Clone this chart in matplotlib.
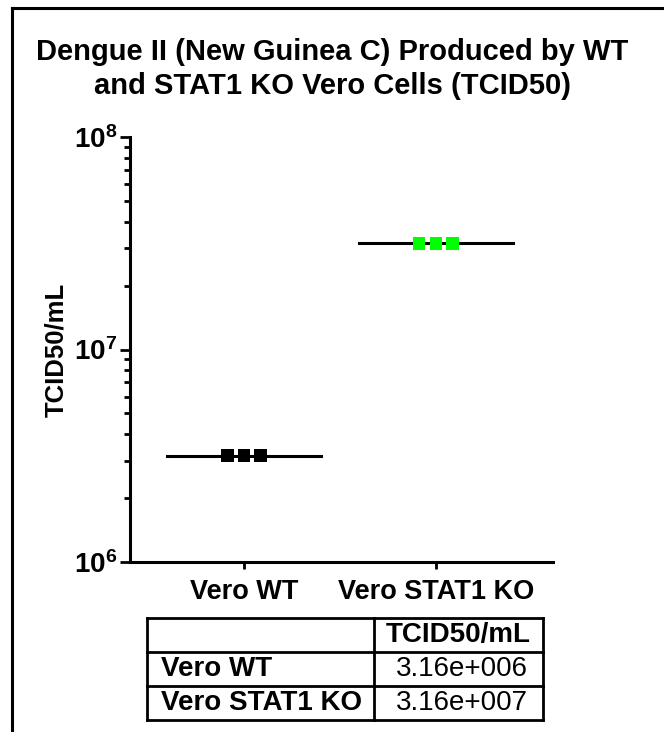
import math
import matplotlib
matplotlib.use("Agg")
import matplotlib.pyplot as plt
import matplotlib.ticker as mticker
from matplotlib.lines import Line2D

plt.rcParams.update({
    "font.family": ["Liberation Sans", "DejaVu Sans"],
    "mathtext.fontset": "custom",
    "mathtext.rm": "Liberation Sans",
    "mathtext.bf": "Liberation Sans:bold",
})

# data
groups = ["Vero WT", "Vero STAT1 KO"]
wt_values = [3.16e6, 3.16e6, 3.16e6]
ko_values = [3.16e7, 3.16e7, 3.16e7]
group_colors = ["#000000", "#00FF00"]
table_header = ["", "TCID50/mL"]
table_rows = ["Vero WT", "Vero STAT1 KO"]
table_values = ["3.16e+006", "3.16e+007"]

fig = plt.figure(figsize=(6.64, 7.32), dpi=100)

# outer frame (clipped on right/bottom like the source)
fig.add_artist(Line2D([0.018, 1.0], [0.989, 0.989], color="black", lw=2.2))
fig.add_artist(Line2D([0.018, 0.018], [0.989, 0.0], color="black", lw=2.2))

fig.text(0.5, 0.906, "Dengue II (New Guinea C) Produced by WT\nand STAT1 KO Vero Cells (TCID50)",
         ha="center", va="center", fontsize=21, fontweight="bold", linespacing=1.3)

ax = fig.add_axes([0.1958, 0.2322, 0.637, 0.5806])
ax.set_yscale("log")
ax.set_ylim(1e6, 1e8)
ax.set_xlim(0.406, 2.61)

offsets = [-0.088, 0.0, 0.088]
for i, vals in enumerate([wt_values, ko_values]):
    x0 = i + 1
    mean = sum(vals) / len(vals)
    ax.plot([x0 - 0.4, x0 + 0.4], [mean, mean], color="black", lw=2.2, zorder=2)
    ax.scatter([x0 + o for o in offsets], vals, marker="s", s=85,
               color=group_colors[i], edgecolors="none", zorder=3)

for side in ["top", "right"]:
    ax.spines[side].set_visible(False)
for side in ["left", "bottom"]:
    ax.spines[side].set_linewidth(2.2)

ax.set_xticks([1, 2])
ax.set_xticklabels(groups, fontsize=19.5, fontweight="bold")
ax.tick_params(axis="x", length=5, width=2, pad=7)
ax.yaxis.set_major_locator(mticker.LogLocator(base=10, numticks=5))
ax.yaxis.set_minor_locator(mticker.LogLocator(base=10, subs=range(2, 10), numticks=20))
ax.yaxis.set_minor_formatter(mticker.NullFormatter())
ax.yaxis.set_major_formatter(mticker.FuncFormatter(
    lambda v, p: r"$\mathbf{10^{%d}}$" % round(math.log10(v))))
ax.tick_params(axis="y", which="major", length=7, width=2, labelsize=20, pad=2)
ax.tick_params(axis="y", which="minor", length=4, width=2)
ax.set_ylabel("TCID50/mL", fontsize=18.5, fontweight="bold")
ax.yaxis.set_label_coords(-0.147, 0.5)

# summary table
tax = fig.add_axes([0.2214, 0.0164, 0.5964, 0.1393])
tax.set_xlim(0, 396)
tax.set_ylim(0, 3)
tax.axis("off")
split = 227
lw = 2
for yy in [0, 1, 2, 3]:
    tax.plot([0, 396], [yy, yy], color="black", lw=lw, clip_on=False)
for xx in [0, split, 396]:
    tax.plot([xx, xx], [0, 3], color="black", lw=lw, clip_on=False)
tax.text((split + 396) / 2, 2.5, table_header[1], ha="center", va="center",
         fontsize=20, fontweight="bold")
for r, (name, val) in enumerate(zip(table_rows, table_values)):
    yy = 1.5 - r
    tax.text(14, yy, name, ha="left", va="center", fontsize=20, fontweight="bold")
    tax.text((split + 396) / 2 + 3, yy, val, ha="center", va="center", fontsize=20)

fig.savefig("out.png", dpi=100)
